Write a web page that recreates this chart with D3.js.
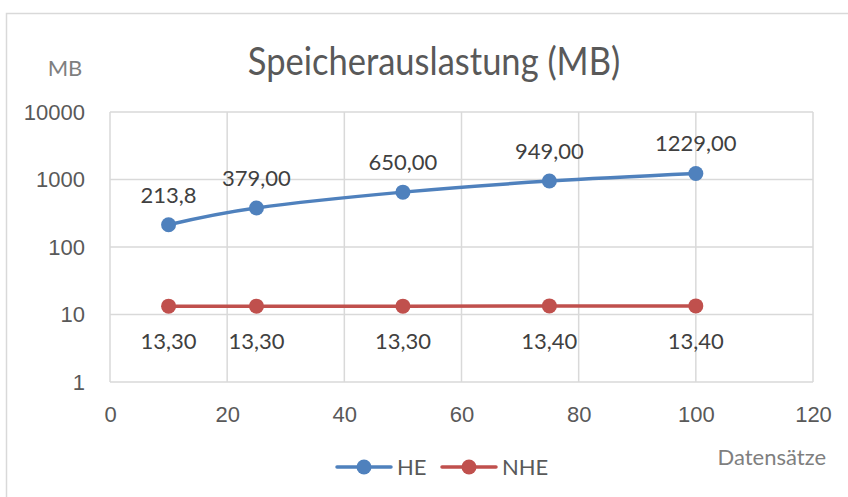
<!DOCTYPE html>
<html>
<head>
<meta charset="utf-8">
<script src="https://cdn.jsdelivr.net/npm/d3@7"></script>
<style>
  body { margin: 0; background: #fff; }
  svg { font-family: Lato, "Open Sans", sans-serif; }
  /* the title in the reference is narrow and tall, squeeze it a bit */
  svg text.title { transform-box: fill-box; transform-origin: center; transform: scaleX(0.885); }
</style>
</head>
<body>
<div id="chart"></div>
<script>
// data
const datensaetze = [10, 25, 50, 75, 100];
const he = [213.8, 379, 650, 949, 1229];
const nhe = [13.3, 13.3, 13.3, 13.4, 13.4];
const heLabels = ["213,8", "379,00", "650,00", "949,00", "1229,00"];
const nheLabels = ["13,30", "13,30", "13,30", "13,40", "13,40"];
const xTicks = [0, 20, 40, 60, 80, 100, 120];
const yTicks = [1, 10, 100, 1000, 10000];

const W = 848, H = 497;
const margin = {top: 112, right: 35, bottom: 115, left: 110};
const width = W - margin.left - margin.right;
const height = H - margin.top - margin.bottom;
const fs = "22px";

const svg = d3.select("#chart").append("svg")
    .attr("width", W)
    .attr("height", H);

// chart frame
svg.append("rect")
    .attr("x", 6.5).attr("y", 13.5)
    .attr("width", 860).attr("height", 500)
    .attr("fill", "#fff")
    .attr("stroke", "#d9d9d9")
    .attr("stroke-width", 1.5);

const g = svg.append("g")
    .attr("transform", "translate(" + margin.left + "," + margin.top + ")");

const x = d3.scaleLinear().domain([0, 120]).range([0, width]);
const y = d3.scaleLog().domain([1, 10000]).range([height, 0]);

// gridlines
g.selectAll(".hgrid").data(yTicks).enter().append("line")
    .attr("class", "hgrid")
    .attr("x1", 0).attr("x2", width)
    .attr("y1", d => y(d)).attr("y2", d => y(d))
    .attr("stroke", "#d9d9d9").attr("stroke-width", 1.5);

g.selectAll(".vgrid").data(xTicks).enter().append("line")
    .attr("class", "vgrid")
    .attr("x1", d => x(d)).attr("x2", d => x(d))
    .attr("y1", 0).attr("y2", height)
    .attr("stroke", "#d9d9d9").attr("stroke-width", 1.5);

// axes (labels only)
const xAxis = d3.axisBottom(x).tickValues(xTicks).tickSize(0).tickPadding(24);
const yAxis = d3.axisLeft(y).tickValues(yTicks).tickFormat(d3.format("d")).tickSize(0).tickPadding(25);

g.append("g").attr("class", "x-axis")
    .attr("transform", "translate(0," + height + ")")
    .call(xAxis);
g.append("g").attr("class", "y-axis").call(yAxis);

g.selectAll(".x-axis path, .y-axis path").remove();
g.selectAll(".x-axis text, .y-axis text")
    .attr("fill", "#595959")
    .style("font-size", fs);

// series
const series = [
    {name: "HE", values: he, labels: heLabels, color: "#4f81bd", dy: -22, curve: d3.curveCatmullRom.alpha(0)},
    {name: "NHE", values: nhe, labels: nheLabels, color: "#c0504d", dy: 43, curve: d3.curveLinear}
];

series.forEach(s => {
    const pts = datensaetze.map((d, i) => ({x: d, y: s.values[i], label: s.labels[i]}));
    const line = d3.line().x(d => x(d.x)).y(d => y(d.y)).curve(s.curve);

    g.append("path")
        .datum(pts)
        .attr("d", line)
        .attr("fill", "none")
        .attr("stroke", s.color)
        .attr("stroke-width", 3.5)
        .attr("stroke-linecap", "round");

    g.selectAll(".dot-" + s.name).data(pts).enter().append("circle")
        .attr("cx", d => x(d.x))
        .attr("cy", d => y(d.y))
        .attr("r", 7.5)
        .attr("fill", s.color);

    g.selectAll(".lbl-" + s.name).data(pts).enter().append("text")
        .attr("x", d => x(d.x))
        .attr("y", d => y(d.y) + s.dy)
        .attr("text-anchor", "middle")
        .attr("fill", "#404040")
        .style("font-size", fs)
        .text(d => d.label);
});

// title and axis titles
svg.append("text")
    .attr("class", "title")
    .attr("x", 434).attr("y", 75)
    .attr("text-anchor", "middle")
    .attr("fill", "#595959")
    .style("font-size", "39px")
    .text("Speicherauslastung (MB)");

svg.append("text")
    .attr("x", 65).attr("y", 76)
    .attr("text-anchor", "middle")
    .attr("fill", "#7f7f7f")
    .style("font-size", fs)
    .text("MB");

svg.append("text")
    .attr("x", 826).attr("y", 465)
    .attr("text-anchor", "end")
    .attr("fill", "#7f7f7f")
    .style("font-size", fs)
    .text("Datensätze");

// legend
const legend = svg.append("g").attr("transform", "translate(337,467)");
series.forEach((s, i) => {
    const lg = legend.append("g").attr("transform", "translate(" + (i * 105) + ",0)");
    lg.append("line")
        .attr("x1", 0).attr("x2", 54)
        .attr("stroke", s.color).attr("stroke-width", 3.5)
        .attr("stroke-linecap", "round");
    lg.append("circle").attr("cx", 27).attr("r", 7.5).attr("fill", s.color);
    lg.append("text")
        .attr("x", 60).attr("y", 8)
        .attr("fill", "#595959")
        .style("font-size", fs)
        .text(s.name);
});
</script>
</body>
</html>
